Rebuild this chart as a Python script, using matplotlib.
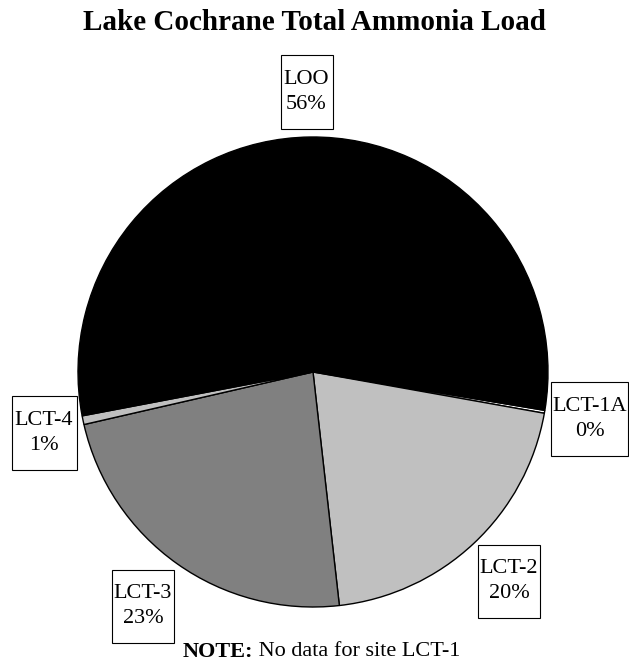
import matplotlib
matplotlib.use("Agg")
import matplotlib.pyplot as plt
from matplotlib.patches import Rectangle

# ── data ────────────────────────────────────────────────────
sites = ["LCT-1A", "LCT-2", "LCT-3", "LCT-4", "LOO"]
share = [0.2, 20.4, 23.2, 0.6, 55.6]
colors = ["#ffffff", "#c0c0c0", "#808080", "#c0c0c0", "#000000"]

W, H = 629, 662
plt.rcParams["font.family"] = ["Liberation Serif", "DejaVu Serif"]

fig = plt.figure(figsize=(W / 100, H / 100), dpi=100)
ax = fig.add_axes([0, 0, 1, 1])
ax.set_aspect("equal")
ax.axis("off")

cx, cy, r = 313, H - 372, 235
wedges, _ = ax.pie(share, colors=colors, startangle=-9.4, counterclock=False,
                   center=(cx, cy), radius=r,
                   wedgeprops=dict(edgecolor="black", linewidth=1.0))
ax.set_xlim(0, W)
ax.set_ylim(0, H)

# label boxes (centre x, centre y in image px, box w, box h)
boxes = {
    "LOO":    (306.5, 92, 52, 74),
    "LCT-1A": (589.5, 419, 77, 74),
    "LCT-2":  (509, 581, 62, 73),
    "LCT-3":  (143, 606, 62, 73),
    "LCT-4":  (44, 433, 65, 74),
}
total = sum(share)
for name, val in zip(sites, share):
    bx, by, bw, bh = boxes[name]
    by = H - by
    ax.add_patch(Rectangle((bx - bw / 2, by - bh / 2), bw, bh,
                           facecolor="white", edgecolor="black", lw=0.8))
    ax.text(bx, by, f"{name}\n{round(val / total * 100):.0f}%", ha="center",
            va="center", fontsize=16, linespacing=1.4)

ax.text(314, H - 23, "Lake Cochrane Total Ammonia Load", ha="center",
        va="center", fontsize=21, fontweight="bold")
ax.text(253, H - 652, " No data for site LCT-1", ha="left",
        va="center", fontsize=16)
ax.text(253, H - 652, "NOTE:", ha="right", va="center", fontsize=16,
        fontweight="bold")

fig.savefig("out.png", dpi=100)
